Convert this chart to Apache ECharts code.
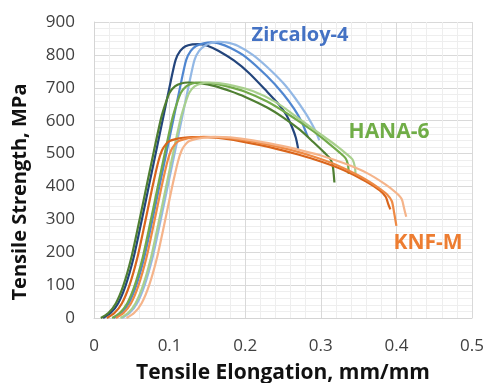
<!DOCTYPE html>
<html>
<head>
<meta charset="utf-8">
<script src="https://cdn.jsdelivr.net/npm/echarts@6/dist/echarts.min.js"></script>
<style>
html,body{margin:0;padding:0;background:#fff;}
#c{width:487px;height:383px;}
</style>
</head>
<body>
<div id="c"></div>
<script>
// Tick values
const xTicks = [0, 0.1, 0.2, 0.3, 0.4, 0.5];
const yTicks = [0, 100, 200, 300, 400, 500, 600, 700, 800, 900];

// Zircaloy-4 curves [elongation, strength]
const zr1 = [[0.012,0],[0.022,15],[0.032,45],[0.042,100],[0.052,180],[0.062,285],[0.072,395],[0.082,505],[0.092,615],[0.102,725],[0.108,785],[0.114,812],[0.121,826],[0.130,832],[0.140,833],[0.150,828],[0.165,812],[0.185,783],[0.205,745],[0.229,688],[0.245,648],[0.255,615],[0.262,580],[0.267,548],[0.270,515]];
const zr2 = [[0.026,0],[0.036,15],[0.046,45],[0.056,100],[0.066,180],[0.076,285],[0.086,395],[0.096,505],[0.106,615],[0.116,725],[0.122,785],[0.128,812],[0.135,827],[0.145,835],[0.155,838],[0.165,835],[0.180,822],[0.200,795],[0.229,735],[0.250,682],[0.265,635],[0.275,595],[0.280,567],[0.283,550]];
const zr3 = [[0.037,0],[0.047,15],[0.057,45],[0.067,100],[0.077,180],[0.087,285],[0.097,395],[0.107,505],[0.117,615],[0.127,725],[0.133,785],[0.139,812],[0.146,827],[0.155,836],[0.165,840],[0.175,838],[0.190,828],[0.210,800],[0.229,763],[0.250,715],[0.265,672],[0.280,622],[0.290,582],[0.295,558],[0.298,540]];

// HANA-6 curves
const hana1 = [[0.009,0],[0.019,15],[0.029,45],[0.039,100],[0.049,180],[0.059,285],[0.069,395],[0.079,505],[0.089,610],[0.095,655],[0.100,685],[0.107,704],[0.115,713],[0.125,716],[0.140,714],[0.160,705],[0.180,690],[0.200,672],[0.229,640],[0.250,610],[0.273,571],[0.290,535],[0.305,502],[0.313,482],[0.316,460],[0.318,412]];
const hana2 = [[0.024,0],[0.034,15],[0.044,45],[0.054,100],[0.064,180],[0.074,285],[0.084,395],[0.094,505],[0.104,610],[0.110,655],[0.115,685],[0.122,704],[0.130,713],[0.140,716],[0.155,714],[0.175,705],[0.200,688],[0.229,658],[0.260,615],[0.290,568],[0.310,532],[0.325,503],[0.333,485],[0.336,465],[0.337,438]];
const hana3 = [[0.035,0],[0.045,15],[0.055,45],[0.065,100],[0.075,180],[0.085,285],[0.095,395],[0.105,505],[0.115,610],[0.121,655],[0.126,685],[0.133,704],[0.142,713],[0.152,716],[0.165,714],[0.185,706],[0.210,690],[0.240,657],[0.273,603],[0.300,558],[0.320,525],[0.335,497],[0.342,482],[0.345,460],[0.346,438]];

// KNF-M curves
const knf1 = [[0.017,0],[0.027,15],[0.037,45],[0.047,100],[0.057,180],[0.067,285],[0.077,395],[0.085,475],[0.090,510],[0.095,528],[0.100,538],[0.108,544],[0.118,548],[0.130,550],[0.150,550],[0.180,543],[0.210,530],[0.240,515],[0.270,497],[0.300,476],[0.330,450],[0.360,415],[0.378,388],[0.386,368],[0.389,348],[0.392,330]];
const knf2 = [[0.029,0],[0.039,15],[0.049,45],[0.059,100],[0.069,180],[0.079,285],[0.089,395],[0.097,475],[0.102,510],[0.107,528],[0.112,538],[0.120,544],[0.130,548],[0.145,551],[0.165,550],[0.200,540],[0.230,527],[0.260,511],[0.290,491],[0.320,466],[0.350,433],[0.375,398],[0.388,375],[0.394,355],[0.397,320],[0.400,280]];
const knf3 = [[0.043,0],[0.053,15],[0.063,45],[0.073,100],[0.083,180],[0.093,285],[0.103,395],[0.111,475],[0.116,510],[0.121,528],[0.126,538],[0.134,544],[0.145,548],[0.160,551],[0.180,549],[0.210,540],[0.240,527],[0.270,512],[0.300,494],[0.330,471],[0.360,442],[0.385,407],[0.400,380],[0.407,362],[0.410,335],[0.413,308]];

const seriesNames = ['Zircaloy-4 #1','Zircaloy-4 #2','Zircaloy-4 #3','HANA-6 #1','HANA-6 #2','HANA-6 #3','KNF-M #1','KNF-M #2','KNF-M #3'];
const seriesData = [zr1, zr2, zr3, hana1, hana2, hana3, knf1, knf2, knf3];
const colors = ['#23457c','#4f86d0','#93b8e5','#4f7f32','#72aa4a','#a9d08e','#d9651c','#ee8a45','#f5b48a'];

const chart = echarts.init(document.getElementById('c'), null, {renderer:'canvas'});
const font = '"Open Sans", "Noto Sans", sans-serif';

chart.setOption({
  animation: false,
  backgroundColor: '#ffffff',
  grid: {left: 94, right: 15, top: 22, bottom: 65, containLabel: false, outerBoundsMode: 'none'},
  xAxis: {
    type: 'value', min: xTicks[0], max: xTicks[xTicks.length-1], interval: 0.1,
    axisLine: {show: true, lineStyle: {color: '#d4d4d4', width: 1}},
    axisTick: {show: false},
    axisLabel: {color: '#404040', fontSize: 17, fontFamily: font, margin: 20,
      formatter: v => (v === 0 ? '0' : String(Math.round(v*10)/10))},
    splitLine: {show: true, lineStyle: {color: '#d9d9d9', width: 1}},
    minorTick: {show: false, splitNumber: 5},
    minorSplitLine: {show: true, lineStyle: {color: '#eeeeee', width: 1}},
    name: 'Tensile Elongation, mm/mm', nameLocation: 'middle', nameGap: 45,
    nameTextStyle: {color: '#111', fontSize: 21, fontWeight: 'bold', fontFamily: font}
  },
  yAxis: {
    type: 'value', min: yTicks[0], max: yTicks[yTicks.length-1], interval: 100,
    axisLine: {show: true, lineStyle: {color: '#d4d4d4', width: 1}},
    axisTick: {show: false},
    axisLabel: {color: '#404040', fontSize: 17, fontFamily: font, margin: 19},
    splitLine: {show: true, lineStyle: {color: '#d9d9d9', width: 1}},
    minorTick: {show: false, splitNumber: 5},
    minorSplitLine: {show: true, lineStyle: {color: '#eeeeee', width: 1}}
  },
  graphic: [
    {type: 'text', x: 20, y: 192, rotation: Math.PI/2, z: 100,
      style: {text: 'Tensile Strength, MPa', fill: '#111', font: 'bold 20px ' + font, textAlign: 'center', textVerticalAlign: 'middle'}},
    {type: 'text', x: 300, y: 35, z: 100,
      style: {text: 'Zircaloy-4', fill: '#4472c4', font: 'bold 20px ' + font, textAlign: 'center', textVerticalAlign: 'middle'}},
    {type: 'text', x: 389, y: 132, z: 100,
      style: {text: 'HANA-6', fill: '#70ad47', font: 'bold 21px ' + font, textAlign: 'center', textVerticalAlign: 'middle'}},
    {type: 'text', x: 428, y: 243, z: 100,
      style: {text: 'KNF-M', fill: '#ed7d31', font: 'bold 21px ' + font, textAlign: 'center', textVerticalAlign: 'middle'}}
  ],
  series: seriesData.map((d, i) => ({
    type: 'line', name: seriesNames[i], data: d, showSymbol: false, smooth: 0.25,
    lineStyle: {color: colors[i], width: 2.2}, itemStyle: {color: colors[i]}
  }))
});
</script>
</body>
</html>
